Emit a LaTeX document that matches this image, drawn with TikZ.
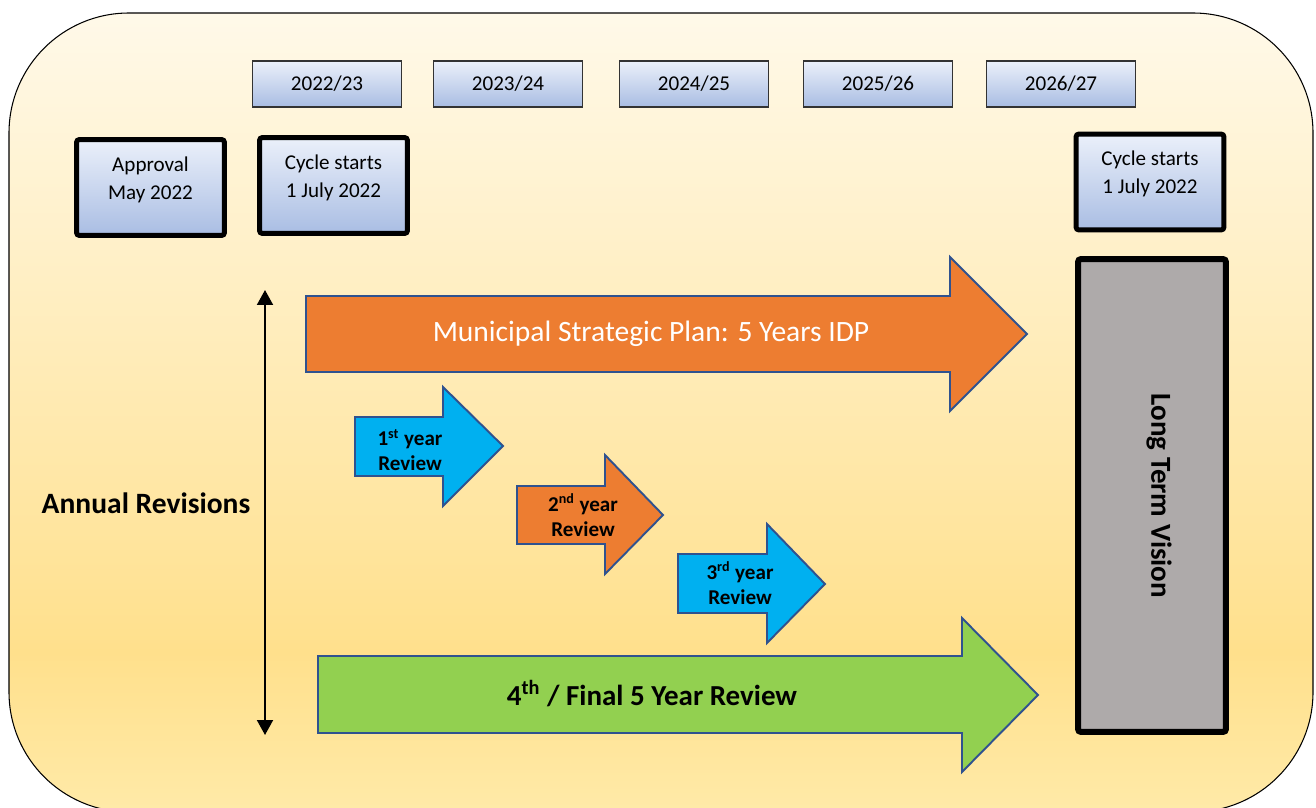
\documentclass[tikz,border=0pt]{standalone}
\usepackage{fontspec}
\setmainfont{Carlito}
\usetikzlibrary{arrows.meta}

\definecolor{paneltop}{HTML}{FFF9E9}
\definecolor{panelup}{HTML}{FFF0C8}
\definecolor{panelmid}{HTML}{FFE08C}
\definecolor{panelbot}{HTML}{FFEAA8}
\definecolor{boxtop}{HTML}{EBF0FA}
\definecolor{boxbot}{HTML}{A9BDE3}
\definecolor{msporange}{HTML}{ED7D31}
\definecolor{reviewblue}{HTML}{00B0F0}
\definecolor{finalgreen}{HTML}{92D050}
\definecolor{arrowedge}{HTML}{2F528F}
\definecolor{visiongray}{HTML}{AEAAAA}

\pgfdeclareverticalshading{panelshade}{100bp}{color(0bp)=(panelbot); color(25bp)=(panelbot); color(35bp)=(panelmid); color(60bp)=(panelup); color(75bp)=(paneltop); color(100bp)=(paneltop)}

\begin{document}
\begin{tikzpicture}[x=0.02cm, y=-0.02cm,
    yearbox/.style={draw=black!80, line width=0.7pt, top color=boxtop, bottom color=boxbot, minimum width=2.98cm, minimum height=0.92cm, font=\fontsize{12}{14}\selectfont},
    cyclebox/.style={draw, line width=0.1cm, rounded corners=0.06cm, top color=boxtop, bottom color=boxbot, minimum width=2.96cm, minimum height=1.92cm},
    boxtext/.style={align=center, font=\fontsize{12}{16}\selectfont},
    blockarrow/.style={draw=arrowedge, line width=1.1pt},
    smalltext/.style={align=center, font=\bfseries\fontsize{12}{14.2}\selectfont}]
    \useasboundingbox (0,0) rectangle (1316,808);
    % background panel
    \path[draw=black, line width=0.6pt, shade, shading=panelshade, rounded corners=2.4cm] (9,13) rectangle (1313,812);

    % financial years
    \foreach \cx/\a/\b in {327/2022/23, 508/2023/24, 694/2024/25, 878/2025/26, 1061/2026/27}
      \node[yearbox] (yr\a) at (\cx,84) {\a/\b};

    % approval and cycle boxes
    \node[cyclebox] (appr) at (150.5,187.5) {};
    \node[boxtext, yshift=0.16cm] (apprtext) at (appr.center) {Approval\\May 2022};
    \node[cyclebox] (cycA) at (333.5,185.5) {};
    \node[boxtext, yshift=0.16cm] (cycAtext) at (cycA.center) {Cycle starts\\1 July 2022};
    \node[cyclebox] (cycB) at (1150,182) {};
    \node[boxtext, yshift=0.16cm] (cycBtext) at (cycB.center) {Cycle starts\\1 July 2022};

    % annual revisions
    \node[font=\bfseries\fontsize{16.8}{19}\selectfont] (annual) at (146,503) {Annual Revisions};
    \coordinate (revtop) at (265,290);
    \coordinate (revbot) at (265,735);
    \draw[{Triangle[width=0.32cm,length=0.3cm]}-{Triangle[width=0.32cm,length=0.3cm]}, line width=1.1pt] (revtop) -- (revbot);

    % block arrows
    \draw[blockarrow, fill=msporange] (306,296) -- (950,296) -- (950,257) -- (1027,334) -- (950,411) -- (950,372) -- (306,372) -- cycle;
    \node[text=white, font=\fontsize{16.8}{19}\selectfont] (msp) at (651,334) {Municipal Strategic Plan: 5 Years IDP};

    \draw[blockarrow, fill=reviewblue] (355,417) -- (443,417) -- (443,387) -- (503,446) -- (443,506) -- (443,476) -- (355,476) -- cycle;
    \node[smalltext] (rev1) at (410,450) {1\textsuperscript{st} year\\Review};
    \draw[blockarrow, fill=msporange] (517,486) -- (605,486) -- (605,455) -- (663,515) -- (605,574) -- (605,544) -- (517,544) -- cycle;
    \node[smalltext] (rev2) at (583,515) {2\textsuperscript{nd} year\\Review};
    \draw[blockarrow, fill=reviewblue] (678,554) -- (767,554) -- (767,524) -- (825,584) -- (767,643) -- (767,613) -- (678,613) -- cycle;
    \node[smalltext] (rev3) at (740,583) {3\textsuperscript{rd} year\\Review};

    \draw[blockarrow, fill=finalgreen] (318,656) -- (962,656) -- (962,618) -- (1038,695) -- (962,772) -- (962,733) -- (318,733) -- cycle;
    \node[font=\bfseries\fontsize{16.5}{19}\selectfont] (final) at (652,694) {4\textsuperscript{th} / Final 5 Year Review};

    % long term vision
    \node[draw, line width=0.12cm, rounded corners=0.06cm, fill=visiongray, minimum width=2.96cm, minimum height=9.46cm] (ltv) at (1152,495.5) {};
    \node[rotate=-90, font=\bfseries\fontsize{16.5}{19}\selectfont] (ltvtext) at (1159,496) {Long Term Vision};
\end{tikzpicture}
\end{document}
